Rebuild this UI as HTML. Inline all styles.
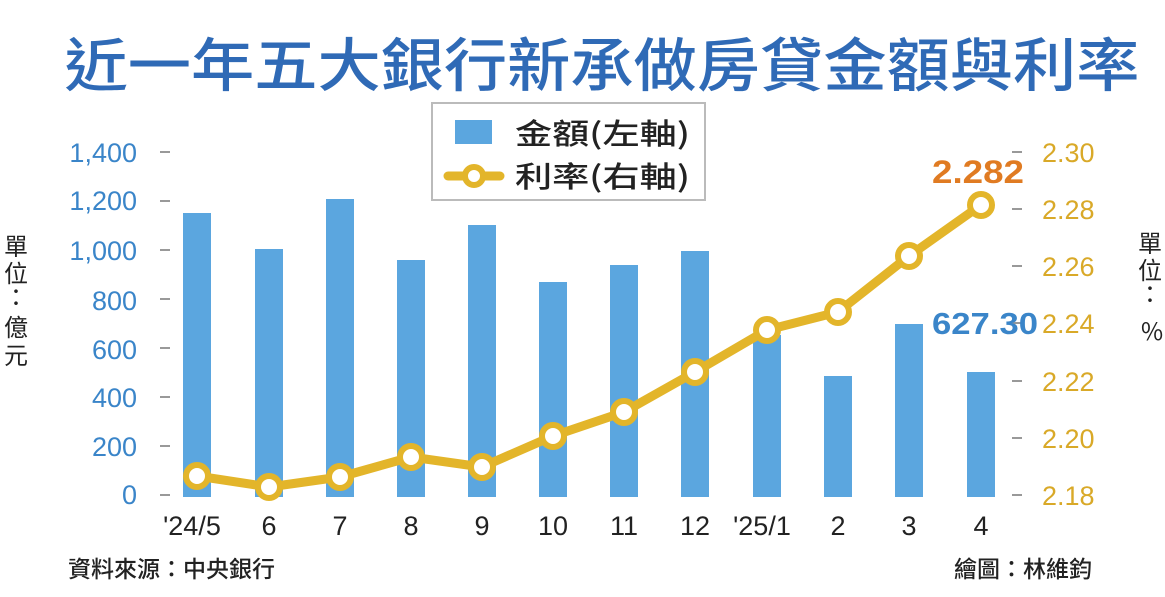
<!DOCTYPE html>
<html><head><meta charset="utf-8"><style>
body{margin:0;background:#fff;}
svg{display:block;font-family:"Liberation Sans","Noto Sans CJK TC",sans-serif;}
</style></head><body>
<svg width="1165" height="597" viewBox="0 0 1165 597" xmlns="http://www.w3.org/2000/svg">
<rect width="1165" height="597" fill="#fff"/>
<text x="602" y="86" text-anchor="middle" font-size="58" font-weight="500" fill="#2f6ab6" font-family="Noto Sans CJK TC,sans-serif" textLength="1075" lengthAdjust="spacingAndGlyphs">近一年五大銀行新承做房貸金額與利率</text>
<g font-size="27" fill="#3a85c9" text-anchor="end">
<text x="137" y="162">1,400</text><text x="137" y="210">1,200</text><text x="137" y="260">1,000</text>
<text x="137" y="310">800</text><text x="137" y="359">600</text><text x="137" y="407">400</text>
<text x="137" y="456">200</text><text x="137" y="504">0</text>
</g>
<g stroke="#999" stroke-width="2">
<line x1="160" y1="152" x2="170" y2="152"/><line x1="160" y1="201" x2="170" y2="201"/><line x1="160" y1="250" x2="170" y2="250"/><line x1="160" y1="299" x2="170" y2="299"/><line x1="160" y1="348" x2="170" y2="348"/><line x1="160" y1="397" x2="170" y2="397"/><line x1="160" y1="446" x2="170" y2="446"/><line x1="160" y1="495" x2="170" y2="495"/>
<line x1="1012" y1="152" x2="1022" y2="152"/><line x1="1012" y1="209" x2="1022" y2="209"/><line x1="1012" y1="266" x2="1022" y2="266"/><line x1="1012" y1="323" x2="1022" y2="323"/><line x1="1012" y1="381" x2="1022" y2="381"/><line x1="1012" y1="438" x2="1022" y2="438"/><line x1="1012" y1="495" x2="1022" y2="495"/>
</g>
<g font-size="27" fill="#d9a928">
<text x="1042" y="162">2.30</text><text x="1042" y="219">2.28</text><text x="1042" y="276">2.26</text>
<text x="1042" y="333">2.24</text><text x="1042" y="391">2.22</text><text x="1042" y="448">2.20</text><text x="1042" y="505">2.18</text>
</g>
<g font-size="24" fill="#222" font-family="Noto Sans CJK TC,sans-serif" text-anchor="middle">
<text x="16" y="255">單</text><text x="16" y="282">位</text><text x="16" y="306">：</text><text x="16" y="336">億</text><text x="16" y="364">元</text>
<text x="1150" y="252">單</text><text x="1150" y="279">位</text><text x="1150" y="303">：</text><text x="1152" y="340">%</text>
</g>
<g fill="#5ba6df">
<rect x="183" y="213" width="28" height="284"/><rect x="255" y="249" width="28" height="248"/>
<rect x="326" y="199" width="28" height="298"/><rect x="397" y="260" width="28" height="237"/>
<rect x="468" y="225" width="28" height="272"/><rect x="539" y="282" width="28" height="215"/>
<rect x="610" y="265" width="28" height="232"/><rect x="681" y="251" width="28" height="246"/>
<rect x="753" y="335" width="28" height="162"/><rect x="824" y="376" width="28" height="121"/>
<rect x="895" y="324" width="28" height="173"/><rect x="967" y="372" width="28" height="125"/>
</g>
<polyline fill="none" stroke="#e3b52a" stroke-width="9" stroke-linejoin="round" points="197,476 269,487 340,477 411,457 482,467 553,436 624,412 695,372 767,330 838,312 909,256 981,205"/>
<g fill="#fff" stroke="#e3b52a" stroke-width="6">
<circle cx="197" cy="476" r="11"/><circle cx="269" cy="487" r="11"/><circle cx="340" cy="477" r="11"/><circle cx="411" cy="457" r="11"/><circle cx="482" cy="467" r="11"/><circle cx="553" cy="436" r="11"/><circle cx="624" cy="412" r="11"/><circle cx="695" cy="372" r="11"/><circle cx="767" cy="330" r="11"/><circle cx="838" cy="312" r="11"/><circle cx="909" cy="256" r="11"/><circle cx="981" cy="205" r="11"/>
</g>
<text x="932" y="183" font-size="32" font-weight="bold" fill="#e07b22" textLength="92" lengthAdjust="spacingAndGlyphs">2.282</text>
<text x="932" y="334" font-size="31" font-weight="bold" fill="#3a85c9" textLength="106" lengthAdjust="spacingAndGlyphs">627.30</text>
<g font-size="27" fill="#222" text-anchor="middle">
<text x="192" y="535">'24/5</text><text x="269" y="535">6</text><text x="340" y="535">7</text><text x="411" y="535">8</text><text x="482" y="535">9</text><text x="553" y="535">10</text><text x="624" y="535">11</text><text x="695" y="535">12</text><text x="762" y="535">'25/1</text><text x="838" y="535">2</text><text x="909" y="535">3</text><text x="981" y="535">4</text>
</g>
<rect x="432" y="103" width="273" height="97" fill="#fff" stroke="#bbb" stroke-width="2"/>
<rect x="455" y="120" width="37" height="24" fill="#5ba6df"/>
<line x1="448" y1="176" x2="500" y2="176" stroke="#e3b52a" stroke-width="9" stroke-linecap="round"/>
<circle cx="474" cy="176" r="9" fill="#fff" stroke="#e3b52a" stroke-width="6"/>
<g font-size="29" fill="#222" font-family="Noto Sans CJK TC,sans-serif" font-weight="500">
<text x="515" y="144" textLength="175" lengthAdjust="spacingAndGlyphs">金額(左軸)</text><text x="515" y="187" textLength="175" lengthAdjust="spacingAndGlyphs">利率(右軸)</text>
</g>
<g font-size="23" fill="#222" font-family="Noto Sans CJK TC,sans-serif" font-weight="500">
<text x="68" y="577">資料來源：中央銀行</text><text x="1092" y="577" text-anchor="end">繪圖：林維鈞</text>
</g>
</svg>
</body></html>
